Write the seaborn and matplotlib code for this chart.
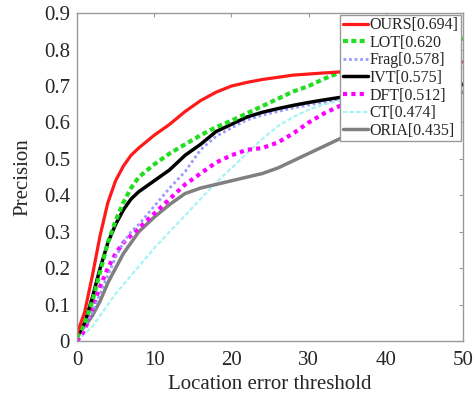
import matplotlib
matplotlib.use("Agg")
import matplotlib.pyplot as plt
import seaborn as sns
import pandas as pd

# location error thresholds (pixels)
thresholds = [0, 1, 2, 3, 4, 5, 6, 7, 8, 10, 12, 14, 16, 18, 20, 22, 24, 26, 28, 30, 32, 35, 40, 45, 50]

# precision per tracker
ours = [0.02, 0.08, 0.18, 0.29, 0.38, 0.44, 0.48, 0.51, 0.53, 0.565, 0.595, 0.63, 0.66, 0.683, 0.70, 0.71, 0.718, 0.724, 0.73, 0.733, 0.736, 0.74, 0.748, 0.757, 0.766]
lot = [0.01, 0.05, 0.11, 0.19, 0.27, 0.33, 0.38, 0.42, 0.45, 0.485, 0.515, 0.54, 0.565, 0.587, 0.605, 0.625, 0.645, 0.665, 0.685, 0.70, 0.72, 0.745, 0.78, 0.81, 0.83]
frag = [0.01, 0.04, 0.08, 0.13, 0.18, 0.23, 0.27, 0.30, 0.32, 0.37, 0.42, 0.465, 0.525, 0.562, 0.585, 0.607, 0.62, 0.63, 0.64, 0.648, 0.656, 0.67, 0.69, 0.715, 0.74]
ivt = [0.01, 0.05, 0.12, 0.20, 0.27, 0.32, 0.36, 0.39, 0.41, 0.44, 0.47, 0.51, 0.54, 0.575, 0.595, 0.615, 0.628, 0.638, 0.647, 0.655, 0.662, 0.672, 0.685, 0.695, 0.705]
dft = [0.0, 0.03, 0.09, 0.15, 0.20, 0.24, 0.27, 0.29, 0.31, 0.35, 0.39, 0.43, 0.46, 0.49, 0.51, 0.525, 0.53, 0.545, 0.57, 0.60, 0.625, 0.655, 0.69, 0.715, 0.73]
ct = [0.0, 0.02, 0.04, 0.07, 0.10, 0.13, 0.155, 0.18, 0.205, 0.255, 0.30, 0.345, 0.39, 0.435, 0.475, 0.515, 0.555, 0.59, 0.615, 0.635, 0.65, 0.665, 0.69, 0.72, 0.749]
oria = [0.02, 0.04, 0.07, 0.11, 0.16, 0.20, 0.24, 0.27, 0.30, 0.34, 0.375, 0.405, 0.42, 0.43, 0.44, 0.45, 0.46, 0.475, 0.495, 0.515, 0.535, 0.565, 0.61, 0.65, 0.683]

labels = ["OURS[0.694]", "LOT[0.620", "Frag[0.578]", "IVT[0.575]", "DFT[0.512]", "CT[0.474]", "ORIA[0.435]"]
series = [ours, lot, frag, ivt, dft, ct, oria]

# styles: colour, dash pattern, width
styles = [
    ("#ff1a1a", "-", 2.3),
    ("#22dd22", (0, (1.2, 0.8)), 3.0),
    ("#9a9aff", (0, (1, 1)), 2.0),
    ("#000000", "-", 2.5),
    ("#ff00ff", (0, (1, 1)), 3.0),
    ("#a8f4f4", (0, (2, 1)), 1.6),
    ("#808080", "-", 2.5),
]

sns.set_style("white")
plt.rcParams['font.family'] = ['Liberation Serif', 'DejaVu Serif']

fig = plt.figure(figsize=(4.75, 3.99), dpi=100)
ax = fig.add_axes([0.162, 0.145, 0.813, 0.822])

# draw order: put Frag under IVT
order = [5, 6, 4, 2, 3, 1, 0]
handles = {}
for i in order:
    df = pd.DataFrame({"x": thresholds, "y": series[i]})
    color, ls, lw = styles[i]
    sns.lineplot(data=df, x="x", y="y", ax=ax, color=color, linestyle=ls, linewidth=lw)
    handles[i] = ax.lines[-1]

ax.set_xlim(0, 50)
ax.set_ylim(0, 0.9)
ax.set_xticks([0, 10, 20, 30, 40, 50])
ax.set_yticks([0, 0.1, 0.2, 0.3, 0.4, 0.5, 0.6, 0.7, 0.8, 0.9])
ax.set_yticklabels(["0", "0.1", "0.2", "0.3", "0.4", "0.5", "0.6", "0.7", "0.8", "0.9"])
ax.tick_params(direction="in", length=3, color="#999999", top=True, right=True,
               labelsize=15)
ax.tick_params(axis="x", pad=7)
ax.tick_params(axis="y", pad=5)
for s in ax.spines.values():
    s.set_color("#999999")
    s.set_linewidth(1)
ax.set_xlabel("Location error threshold", fontsize=15, labelpad=4)
ax.set_ylabel("Precision", fontsize=15, labelpad=8)

leg = ax.legend([handles[i] for i in range(7)], labels, loc="upper right",
                bbox_to_anchor=(0.995, 0.995), fontsize=11.5, handlelength=1.6,
                handletextpad=0.1, borderpad=0.15, labelspacing=0.1,
                borderaxespad=0.0, frameon=True, fancybox=False, framealpha=1)
leg.get_frame().set_edgecolor("#999999")
leg.get_frame().set_linewidth(1)

fig.savefig("out.png", dpi=100)
